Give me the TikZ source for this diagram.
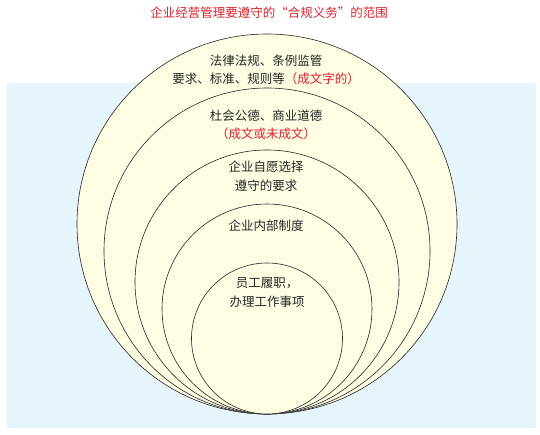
\documentclass[tikz,border=0pt]{standalone}
\usepackage{fontspec}
\newfontfamily\cjk{Noto Sans CJK SC}
\usetikzlibrary{positioning}
\definecolor{bgblue}{RGB}{230,244,252}
\definecolor{cream}{RGB}{254,253,228}
\definecolor{cred}{RGB}{215,35,45}
\tikzset{
  ring/.style={draw=black!85, line width=0.6pt, fill=cream},
  lbl/.style={font=\cjk\fontsize{12.5}{18.5}\selectfont, align=center, inner sep=0pt, text=black!85},
}

\begin{document}
\begin{tikzpicture}[x=1pt,y=1pt]
    \useasboundingbox (0,0) rectangle (540,434);
    % background
    \fill[bgblue] (7,6) rectangle (536,351);
    % nested rings, all touching at the bottom
    \foreach \r in {190,163,132,105,75.5}
        \draw[ring] (267,{20+\r}) circle[radius=\r];
    % labels
    \node[lbl, text=cred] (title) at (269,421) {企业经营管理要遵守的“合规义务”的范围};
    \node[lbl] (law) at (266,364) {法律法规、条例监管\\要求、标准、规则等{\color{cred}（成文字的）}};
    \node[lbl] (moral) at (266,309) {杜会公德、商业道德\\{\color{cred}（成文或未成文）}};
    \node[lbl] (volun) at (266,258) {企业自愿选择\\遵守的要求};
    \node[lbl] (inner) at (266,208) {企业内部制度};
    \node[lbl] (staff) at (267,141.5) {员工履职，\\办理工作事项};
\end{tikzpicture}
\end{document}
